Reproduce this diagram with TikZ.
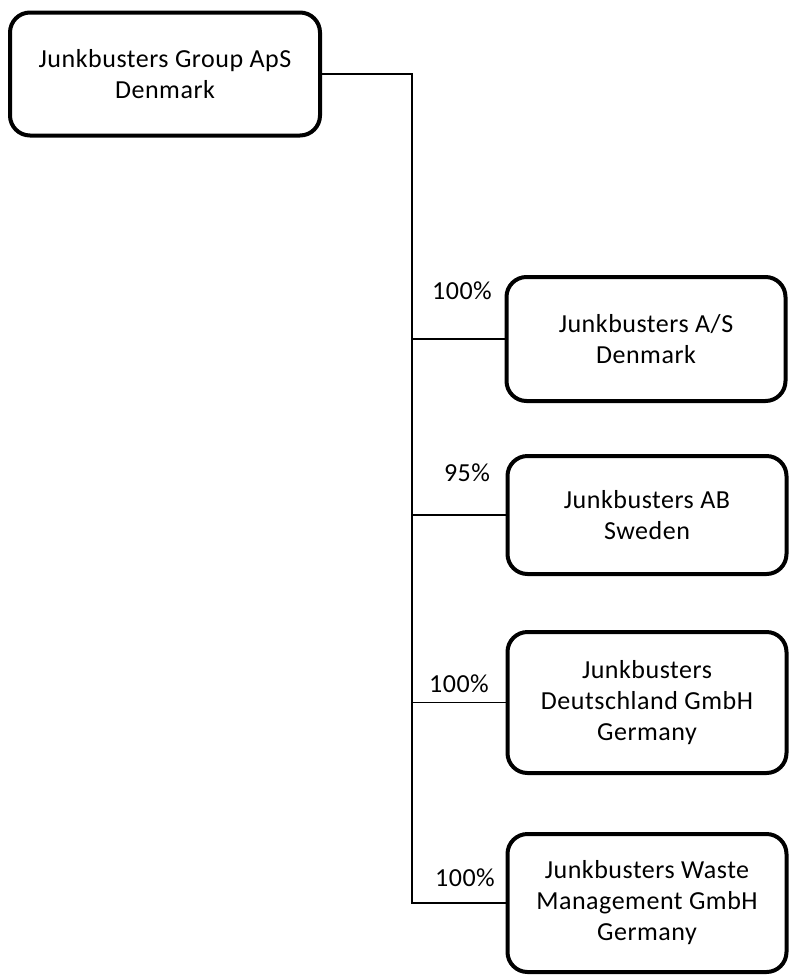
\documentclass[tikz,border=0pt]{standalone}
\usepackage{fontspec}
\setmainfont{Carlito}[LetterSpace=2]
\tikzset{
	entity/.style={draw=black, line width=2pt, rounded corners=10pt, align=center, inner sep=0pt, font=\fontsize{13}{15.5}\selectfont},
	share/.style={inner sep=0pt, font=\fontsize{13}{15.5}\selectfont},
	link/.style={draw=black, line width=0.8pt}
}
\begin{document}
\begin{tikzpicture}[x=0.5pt, y=-0.5pt]
	\useasboundingbox (0,0) rectangle (789,976);
	\node[entity, minimum width=155pt, minimum height=61.5pt] (group) at (165,74) {Junkbusters Group ApS\\Denmark};
	\node[entity, minimum width=139.5pt, minimum height=62pt] (as) at (646,339) {Junkbusters A/S\\Denmark};
	\node[entity, minimum width=139.5pt, minimum height=59pt] (ab) at (647,515) {Junkbusters AB\\Sweden};
	\node[entity, minimum width=139.5pt, minimum height=70.5pt] (gmbh) at (647,702.5) {Junkbusters\\Deutschland GmbH\\Germany};
	\node[entity, minimum width=139.5pt, minimum height=69pt] (wm) at (647,903) {Junkbusters Waste\\Management GmbH\\Germany};
	\coordinate (spine) at (412,0);
	\draw[link] (group.east) -- (group.east -| spine) -- (wm.west -| spine) -- (wm.west);
	\draw[link] (as.west) -- (as.west -| spine);
	\draw[link] (ab.west) -- (ab.west -| spine);
	\draw[link] (gmbh.west) -- (gmbh.west -| spine);
	\node[share] (pct-as) at (462,291) {100\%};
	\node[share] (pct-ab) at (467,473) {95\%};
	\node[share] (pct-gmbh) at (459,684) {100\%};
	\node[share] (pct-wm) at (465,878) {100\%};
\end{tikzpicture}
\end{document}
